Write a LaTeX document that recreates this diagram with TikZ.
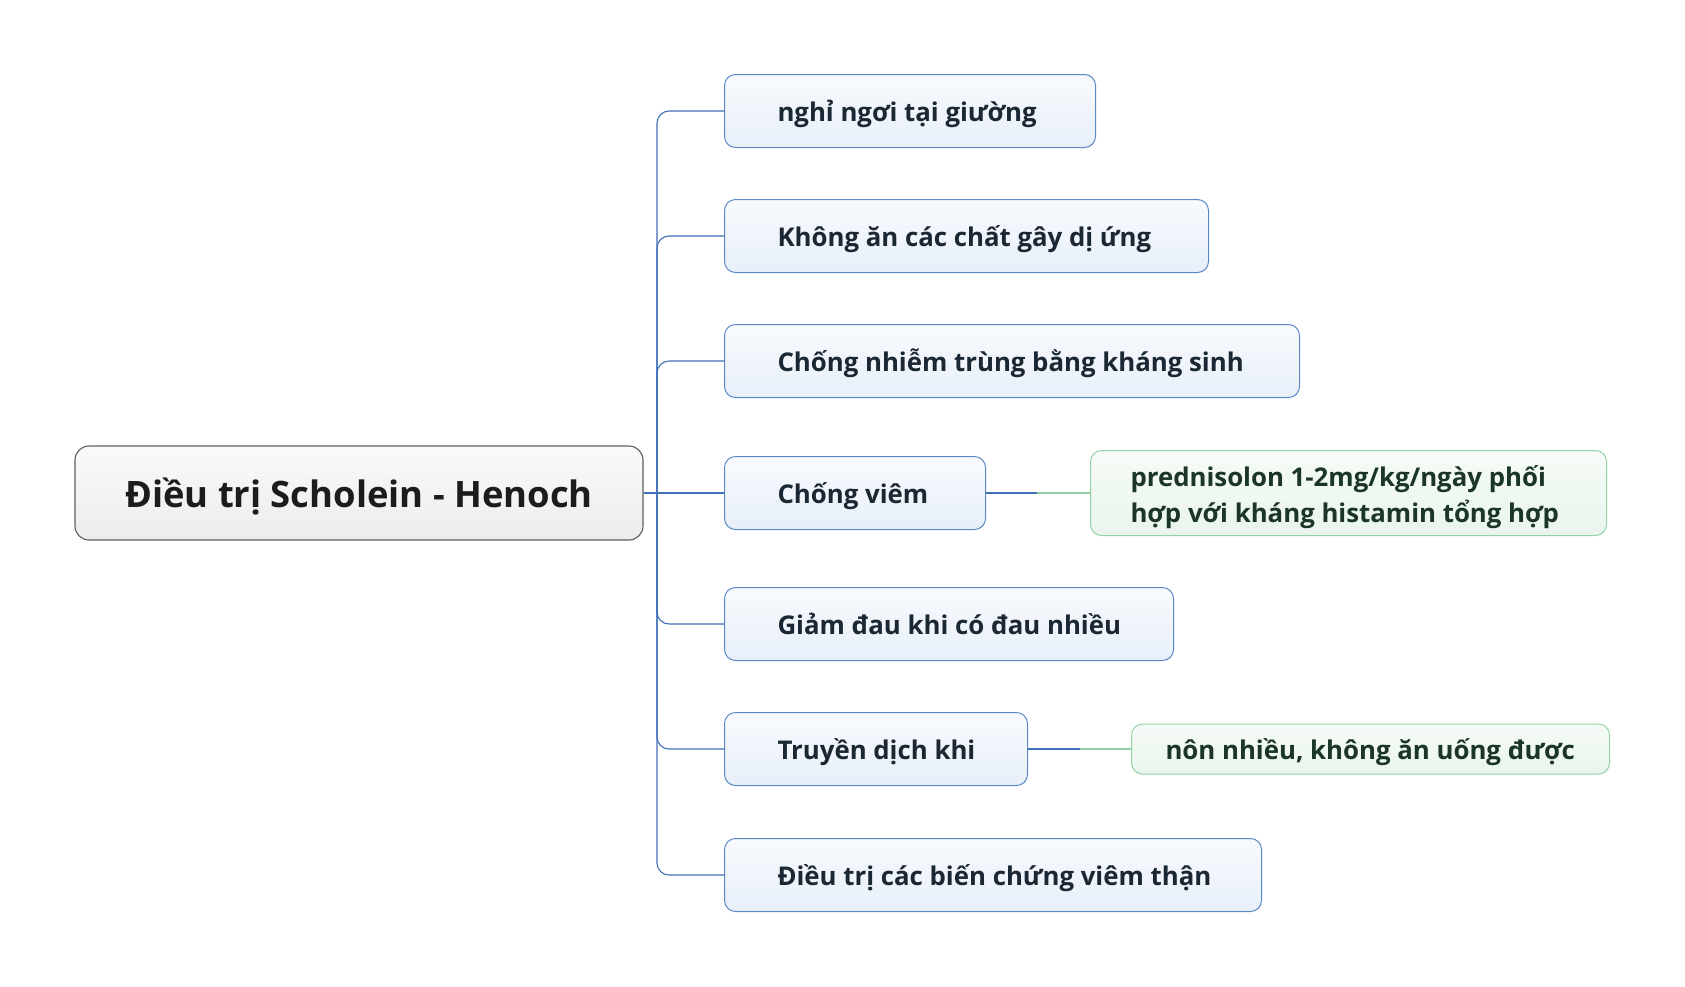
\documentclass[tikz,border=0pt]{standalone}
\usepackage{fontspec}
\setmainfont{Open Sans}
\usetikzlibrary{positioning}
\definecolor{linkblue}{HTML}{3F6FB6}
\definecolor{linkgreen}{HTML}{8FCFA2}
\definecolor{cborder}{HTML}{5B88C6}
\definecolor{ctop}{HTML}{F8FAFD}
\definecolor{cbot}{HTML}{E8EFF9}
\definecolor{gborder}{HTML}{93D2A5}
\definecolor{gtop}{HTML}{F6FBF7}
\definecolor{gbot}{HTML}{E9F5EC}
\definecolor{mborder}{HTML}{5E5E5E}
\definecolor{mtop}{HTML}{FAFAFA}
\definecolor{mbot}{HTML}{ECECEC}
\definecolor{ctext}{HTML}{1B2733}
\definecolor{gtext}{HTML}{1B3625}
\definecolor{mtext}{HTML}{1C1C1C}
\newcommand{\lbox}[2]{\makebox[#1][l]{#2}}
\tikzset{
  mainbox/.style={draw=mborder, line width=1.1pt, rounded corners=14pt, top color=mtop, bottom color=mbot,
    minimum width=568pt, minimum height=94pt, inner sep=0pt, text=mtext,
    text height=34pt, text depth=6pt,
    font=\bfseries\fontsize{36.4}{42}\selectfont},
  childbox/.style={draw=cborder, line width=1pt, rounded corners=11pt, top color=ctop, bottom color=cbot,
    minimum height=73pt, inner xsep=53pt, inner ysep=0pt, text=ctext, anchor=west,
    text height=24pt, text depth=4pt,
    font=\bfseries\fontsize{25.8}{30}\selectfont},
  greenbox/.style={draw=gborder, line width=1pt, rounded corners=11pt, top color=gtop, bottom color=gbot,
    inner ysep=0pt, text=gtext, anchor=west,
    font=\bfseries\fontsize{25.8}{35.5}\selectfont},
  conn/.style={draw=linkblue, line width=1.1pt},
  gconn/.style={draw=linkgreen, line width=1.1pt},
}
\begin{document}
\begin{tikzpicture}[x=1pt,y=-1pt]
\useasboundingbox (0,0) rectangle (1685,986);
\fill[white] (0,0) rectangle (1685,986);
\node[mainbox] (main) at (359,493) {Điều trị Scholein - Henoch};
\coordinate (t) at (657,493);
\node[childbox] (c1) at (724,111) {\lbox{265pt}{nghỉ ngơi tại giường}};
\node[childbox] (c2) at (724,236) {\lbox{378pt}{Không ăn các chất gây dị ứng}};
\node[childbox] (c3) at (724,361) {\lbox{469pt}{Chống nhiễm trùng bằng kháng sinh}};
\node[childbox] (c4) at (724,493) {\lbox{155pt}{Chống viêm}};
\node[childbox] (c5) at (724,624) {\lbox{343pt}{Giảm đau khi có đau nhiều}};
\node[childbox] (c6) at (724,749) {\lbox{197pt}{Truyền dịch khi}};
\node[childbox] (c7) at (724,875) {\lbox{431pt}{Điều trị các biến chứng viêm thận}};
\node[greenbox, inner xsep=40pt, minimum height=85pt, align=left] (g1) at (1090,493)
  {\rule{0pt}{29pt}\lbox{436pt}{prednisolon 1-2mg/kg/ngày phối}\\\lbox{436pt}{hợp với kháng histamin tổng hợp}\rule[-4.5pt]{0pt}{0pt}};
\node[greenbox, inner xsep=34pt, minimum height=50pt, text height=24pt, text depth=4pt] (g2) at (1131,749)
  {\lbox{410pt}{nôn nhiều, không ăn uống được}};
\draw[conn] (main.east) -- (t);
\foreach \c in {c1,c2,c3,c5,c6,c7} {\draw[conn, rounded corners=12pt] (t) |- (\c.west);}
\draw[conn] (t) -- (c4.west);
\coordinate (m1) at (1037,493);
\coordinate (m2) at (1080,749);
\draw[conn] (c4.east) -- (m1);
\draw[gconn] (m1) -- (g1.west);
\draw[conn] (c6.east) -- (m2);
\draw[gconn] (m2) -- (g2.west);
\end{tikzpicture}
\end{document}
